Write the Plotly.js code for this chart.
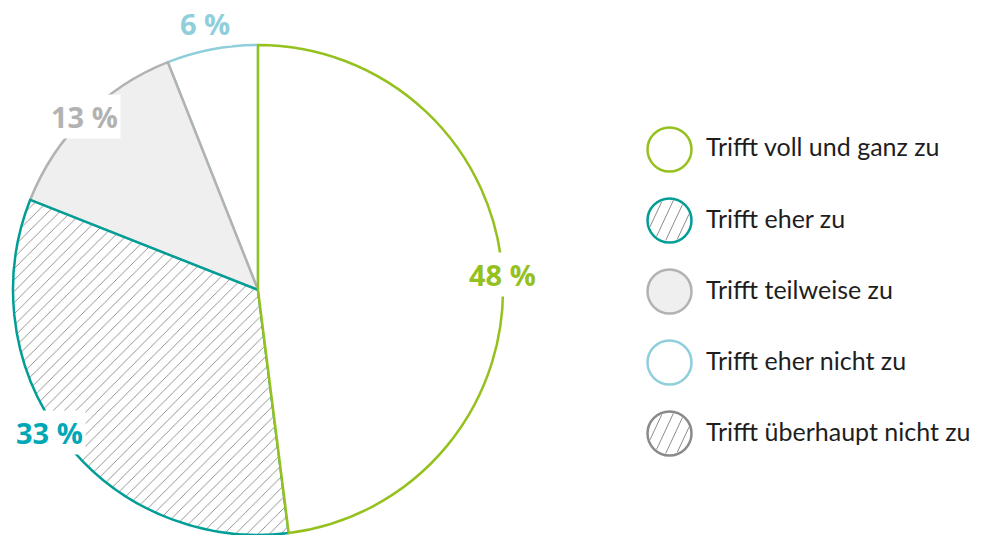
<!DOCTYPE html>
<html>
<head>
<meta charset="utf-8">
<script src="https://cdn.plot.ly/plotly-3.0.1.min.js"></script>
<style>html,body{margin:0;padding:0;background:#fff;}#chart{width:989px;height:535px;}</style>
</head>
<body>
<div id="chart"></div>
<script>
// ---- data ----
const categories = ['Trifft voll und ganz zu', 'Trifft eher zu', 'Trifft teilweise zu', 'Trifft eher nicht zu', 'Trifft überhaupt nicht zu'];
const values = [48, 33, 13, 6, 0];
const valueLabels = ['48 %', '33 %', '13 %', '6 %', '0 %'];

// ---- styling ----
const W = 989, H = 535;
const lineColors = ['#95c11f', '#009e96', '#b2b2b2', '#8fcfdc', '#8a8a8a'];
const fillColors = ['#ffffff', '#ffffff', '#efefef', '#ffffff', '#ffffff'];
const hatched = [false, true, false, false, true];
const labelColors = ['#95c11f', '#00a7b5', '#b2b2b2', '#8fcfdc', '#8a8a8a'];
const labelRadial = [1.0, 1.03, 1.0, 1.11, 1.0];
const labelAngleShift = [0, 3.5, 0, -0.5, 0];
const FONT = 'Lato, "Open Sans", sans-serif';
const LABEL_FONT = '"Open Sans", Lato, sans-serif';

// pie geometry in pixels
const pieLeft = 13, pieRight = 503, pieTop = 45, pieBottom = 535;
const pcx = (pieLeft + pieRight) / 2, pcy = (pieTop + pieBottom) / 2;
const pr = Math.min(pieRight - pieLeft, pieBottom - pieTop) / 2;

// pie drawn counterclockwise in reversed order so slice outlines stack like the original
const idx = [];
for (let i = categories.length - 1; i >= 0; i--) if (values[i] > 0) idx.push(i);
const total = values.reduce((a, b) => a + b, 0);
const rot = -360 * values[idx[0]] / total;

const pie = {
  type: 'pie',
  labels: idx.map(i => categories[i]),
  values: idx.map(i => values[i]),
  sort: false,
  direction: 'counterclockwise',
  rotation: rot,
  textinfo: 'none',
  hoverinfo: 'none',
  showlegend: false,
  domain: {x: [pieLeft / W, pieRight / W], y: [(H - pieBottom) / H, (H - pieTop) / H]},
  marker: {
    colors: idx.map(i => fillColors[i]),
    line: {color: idx.map(i => lineColors[i]), width: 2.5},
    pattern: {
      shape: idx.map(i => hatched[i] ? '/' : ''),
      fgcolor: '#7a7a7a',
      bgcolor: idx.map(i => fillColors[i]),
      size: 8,
      solidity: 0.1
    }
  }
};

// value labels at slice mid-angles (clockwise from top)
const annotations = [];
let cum = 0;
values.forEach((v, i) => {
  if (v <= 0) return;
  const mid = (cum + v / 2) / total * 2 * Math.PI + labelAngleShift[i] * Math.PI / 180;
  cum += v;
  const rr = pr * labelRadial[i];
  const x = pcx + rr * Math.sin(mid);
  const y = pcy - rr * Math.cos(mid);
  annotations.push({
    xref: 'paper', yref: 'paper', x: x / W, y: 1 - y / H,
    xanchor: 'center', yanchor: 'middle', showarrow: false,
    text: valueLabels[i], bgcolor: '#ffffff', borderpad: 2,
    font: {family: LABEL_FONT, size: 29, weight: 'bold', color: labelColors[i]}
  });
});

// custom legend with circles
const shapes = [];
const legX = 669.5, legY0 = 149.5, legDy = 71, legR = 22;
categories.forEach((c, i) => {
  const cy = legY0 + i * legDy;
  shapes.push({
    type: 'circle', xref: 'paper', yref: 'paper',
    x0: (legX - legR) / W, x1: (legX + legR) / W,
    y0: 1 - (cy + legR) / H, y1: 1 - (cy - legR) / H,
    fillcolor: fillColors[i], line: {color: lineColors[i], width: 2.5}, layer: 'above'
  });
  if (hatched[i]) {
    const ang = 65 * Math.PI / 180;
    const ux = Math.cos(ang), uy = -Math.sin(ang); // pixel space, y down
    const nx = Math.sin(ang), ny = Math.cos(ang);
    [-15, -5, 5, 15].forEach(d => {
      const rin = legR - 1.5;
      const h = Math.sqrt(rin * rin - d * d);
      const mx = legX + d * nx, my = cy + d * ny;
      const xA = mx - h * ux, yA = my - h * uy, xB = mx + h * ux, yB = my + h * uy;
      shapes.push({
        type: 'line', xref: 'paper', yref: 'paper',
        x0: xA / W, y0: 1 - yA / H, x1: xB / W, y1: 1 - yB / H,
        line: {color: '#8c8c8c', width: 1}, layer: 'above'
      });
    });
  }
  annotations.push({
    xref: 'paper', yref: 'paper', x: 704 / W, y: 1 - (cy - 3) / H,
    xanchor: 'left', yanchor: 'middle', showarrow: false,
    text: c, font: {family: FONT, size: 25, color: '#1e1e1e'}
  });
});

const layout = {
  width: W, height: H,
  margin: {l: 0, r: 0, t: 0, b: 0},
  paper_bgcolor: '#ffffff',
  showlegend: false,
  annotations: annotations,
  shapes: shapes
};

Plotly.newPlot('chart', [pie], layout, {displayModeBar: false, staticPlot: true});
</script>
</body>
</html>
